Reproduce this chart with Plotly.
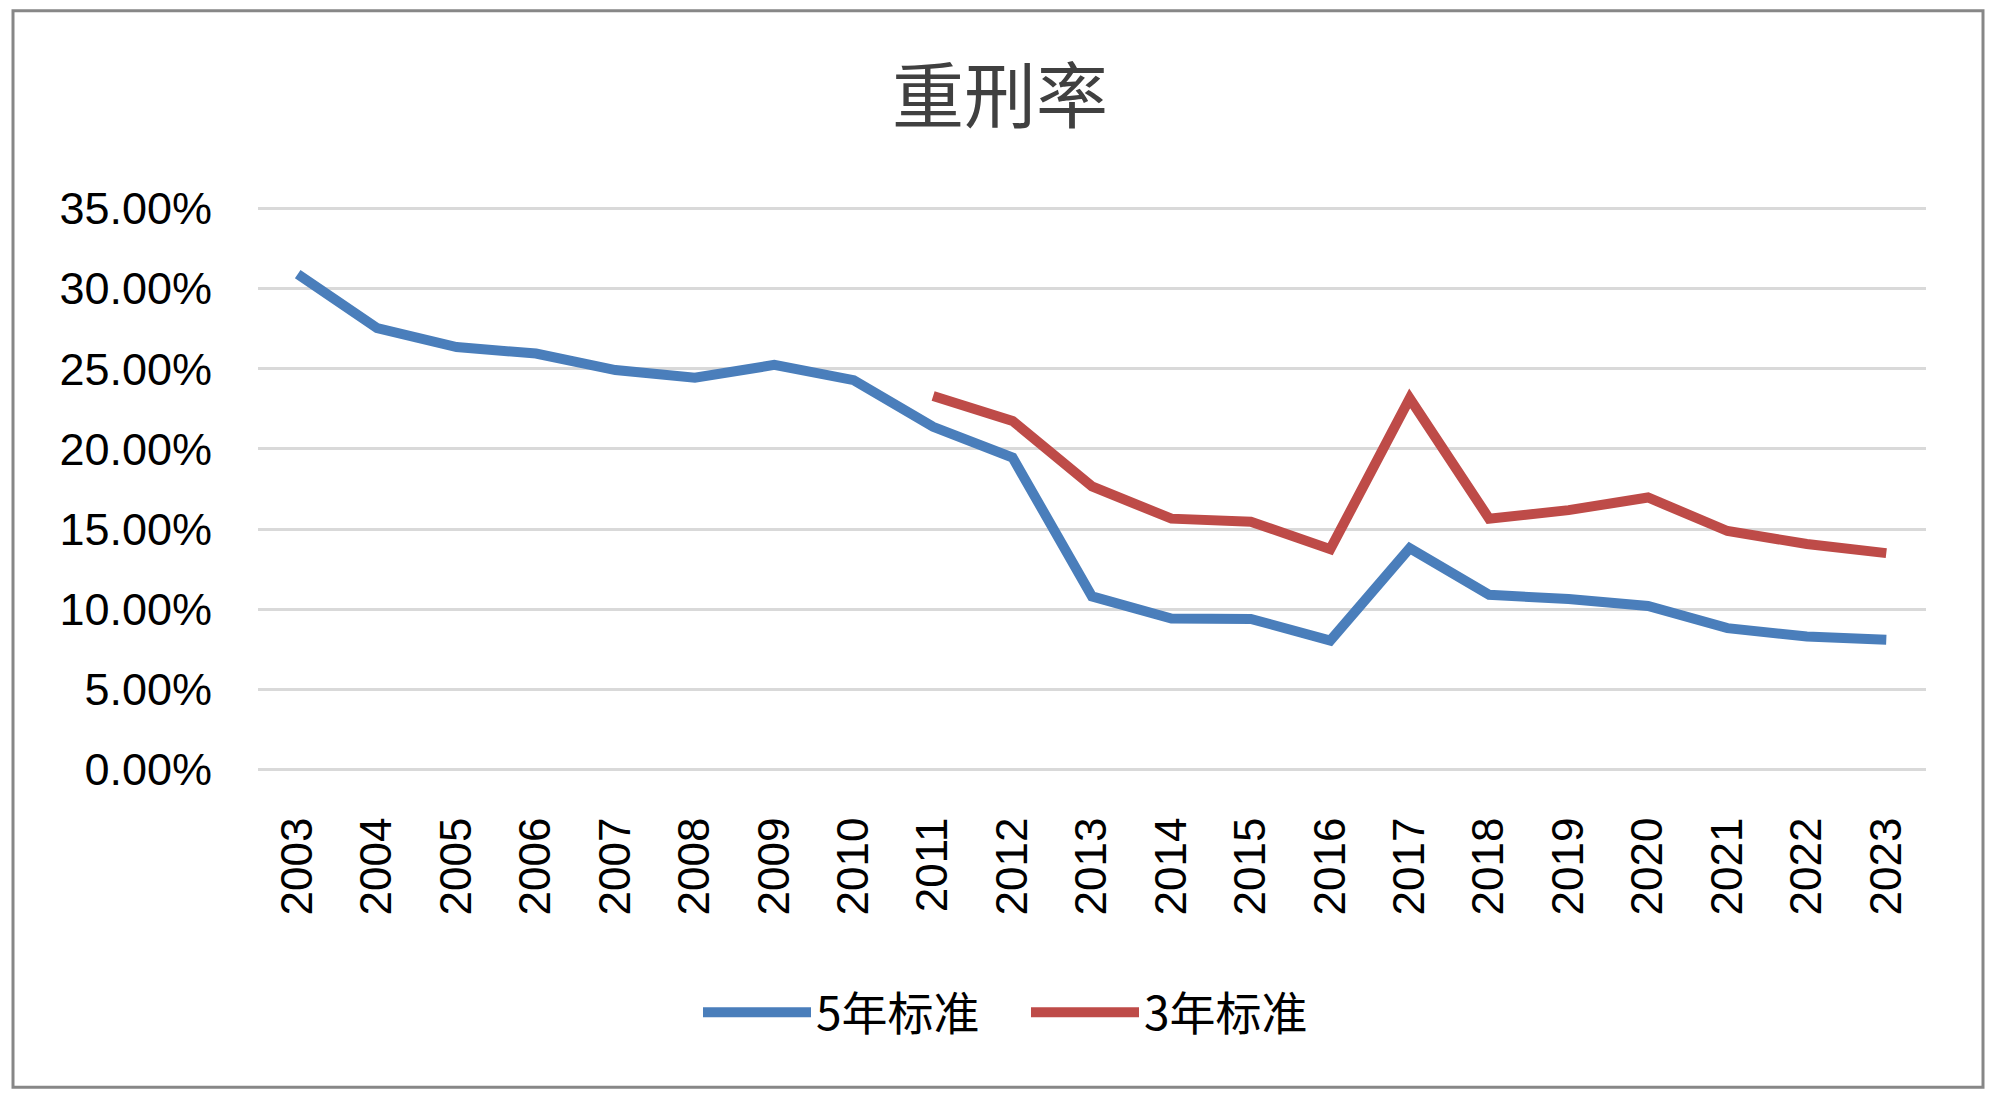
import plotly.graph_objects as go

years = [str(y) for y in range(2003, 2024)]
five_year = [0.309, 0.2754, 0.2635, 0.2595, 0.2492, 0.2444, 0.2524, 0.2429, 0.2138, 0.1946,
             0.1080, 0.0942, 0.0940, 0.0805, 0.1381, 0.1090, 0.1064, 0.1020, 0.0882, 0.0830, 0.0810]
three_year = [None] * 8 + [0.2330, 0.2175, 0.1766, 0.1565, 0.1546, 0.1375, 0.2315, 0.1565,
                           0.1618, 0.1697, 0.1488, 0.1407, 0.1350]
y_ticks = [0, 0.05, 0.10, 0.15, 0.20, 0.25, 0.30, 0.35]

W, H = 2000, 1102
# desired pixel positions of the 0% and 35% gridlines and the category span
L, R = 258, 1926
Y35, Y0 = 208, 770
YMAX = 0.35
EPS = 0.0015
PPU = (Y0 - Y35) / YMAX
T = Y35 - EPS * PPU
B = Y0 + EPS * PPU

fig = go.Figure()
fig.add_trace(go.Scatter(x=years, y=five_year, mode="lines", name="5年标准",
                         line=dict(color="#4A7EBB", width=10), connectgaps=False))
fig.add_trace(go.Scatter(x=years, y=three_year, mode="lines", name="3年标准",
                         line=dict(color="#BE4B48", width=10), connectgaps=False))

def px_x(p):
    return (p - L) / (R - L)

def px_y(p):
    return (B - p) / (B - T)

fig.add_shape(type="rect", xref="paper", yref="paper",
              x0=px_x(13), x1=px_x(1983), y0=px_y(1088), y1=px_y(10),
              line=dict(color="#878787", width=3), layer="below")

fig.update_layout(
    width=W, height=H,
    margin=dict(l=L, r=W - R, t=T, b=H - B, pad=0, autoexpand=False),
    paper_bgcolor="white", plot_bgcolor="white",
    title=dict(text="重刑率", x=0.5, xref="container", xanchor="center",
               y=1 - 97 / H, yref="container", yanchor="middle",
               font=dict(family="Noto Sans CJK SC", size=72, color="#404040")),
    showlegend=True,
    legend=dict(orientation="h", x=px_x(698), xref="paper", xanchor="left",
                y=px_y(1013), yanchor="middle",
                font=dict(family="Noto Sans CJK SC", size=46, color="#000000"),
                itemwidth=108, entrywidth=205, entrywidthmode="pixels",
                bgcolor="rgba(0,0,0,0)"),
    xaxis=dict(type="category", tickangle=-90, range=[-0.5, 20.5],
               tickfont=dict(family="Liberation Sans", size=44, color="#000000"),
               showgrid=False, showline=False, zeroline=False,
               ticks="outside", ticklen=27, tickcolor="rgba(0,0,0,0)"),
    yaxis=dict(range=[-EPS, YMAX + EPS], tickvals=y_ticks, tickformat=".2%",
               tickfont=dict(family="Liberation Sans", size=45, color="#000000"),
               showgrid=True, gridcolor="#D9D9D9", gridwidth=3,
               showline=False, zeroline=False,
               ticks="outside", ticklen=36, tickcolor="rgba(0,0,0,0)"),
)

fig.write_html("out.html", config={"displayModeBar": False},
               post_script="document.body.style.margin='0';document.body.style.overflow='hidden';")
